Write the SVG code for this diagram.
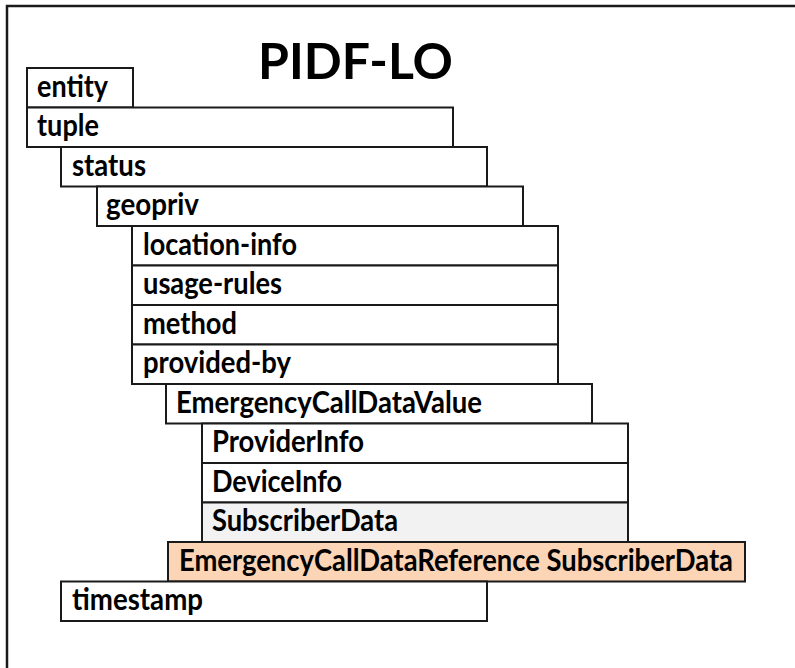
<svg xmlns="http://www.w3.org/2000/svg" width="795" height="668" viewBox="0 0 795 668">
<style>
.box{fill:#ffffff;stroke:#1a1a1a;stroke-width:2}
.sub{fill:#f2f2f2}
.ref{fill:#fbd5b5}
.lbl{font-family:Lato,"Liberation Sans",sans-serif;font-weight:bold;font-size:30px;fill:#000}
.title{font-family:Lato,"Liberation Sans",sans-serif;font-weight:bold;font-size:50px;fill:#000}
</style>
<rect x="0" y="0" width="795" height="668" fill="#ffffff"/>
<rect x="7" y="6" width="800" height="700" fill="none" stroke="#1a1a1a" stroke-width="2.5"/>
<text class="title" x="258" y="79" textLength="195" lengthAdjust="spacingAndGlyphs">PIDF-LO</text>
<g id="connectors"></g>
<g id="entity"><rect class="box" x="27" y="68" width="106" height="39.5"/><text class="lbl" x="37" y="97" textLength="71" lengthAdjust="spacingAndGlyphs">entity</text></g>
<g id="tuple"><rect class="box" x="27" y="107.5" width="426" height="39.5"/><text class="lbl" x="37" y="136" textLength="62" lengthAdjust="spacingAndGlyphs">tuple</text></g>
<g id="status"><rect class="box" x="61" y="147" width="426" height="39.5"/><text class="lbl" x="72" y="176" textLength="74" lengthAdjust="spacingAndGlyphs">status</text></g>
<g id="geopriv"><rect class="box" x="97" y="186.5" width="426" height="39.5"/><text class="lbl" x="106" y="215" textLength="93" lengthAdjust="spacingAndGlyphs">geopriv</text></g>
<g id="location-info"><rect class="box" x="132" y="226" width="426" height="39.5"/><text class="lbl" x="143" y="255" textLength="154" lengthAdjust="spacingAndGlyphs">location-info</text></g>
<g id="usage-rules"><rect class="box" x="132" y="265.5" width="426" height="39.5"/><text class="lbl" x="143" y="294" textLength="139" lengthAdjust="spacingAndGlyphs">usage-rules</text></g>
<g id="method"><rect class="box" x="132" y="305" width="426" height="39.5"/><text class="lbl" x="143" y="334" textLength="94" lengthAdjust="spacingAndGlyphs">method</text></g>
<g id="provided-by"><rect class="box" x="132" y="344.5" width="426" height="39.5"/><text class="lbl" x="143" y="373" textLength="148" lengthAdjust="spacingAndGlyphs">provided-by</text></g>
<g id="EmergencyCallDataValue"><rect class="box" x="166" y="384" width="426" height="39.5"/><text class="lbl" x="176" y="413" textLength="306" lengthAdjust="spacingAndGlyphs">EmergencyCallDataValue</text></g>
<g id="ProviderInfo"><rect class="box" x="202" y="423.5" width="426" height="39.5"/><text class="lbl" x="212" y="452" textLength="152" lengthAdjust="spacingAndGlyphs">ProviderInfo</text></g>
<g id="DeviceInfo"><rect class="box" x="202" y="463" width="426" height="39.5"/><text class="lbl" x="212" y="492" textLength="130" lengthAdjust="spacingAndGlyphs">DeviceInfo</text></g>
<g id="SubscriberData"><rect class="box sub" x="202" y="502.5" width="426" height="39.5"/><text class="lbl" x="212" y="531" textLength="186" lengthAdjust="spacingAndGlyphs">SubscriberData</text></g>
<g id="EmergencyCallDataReference"><rect class="box ref" x="168" y="542" width="577" height="39.5"/><text class="lbl" x="179" y="571" textLength="554" lengthAdjust="spacingAndGlyphs">EmergencyCallDataReference SubscriberData</text></g>
<g id="timestamp"><rect class="box" x="61" y="581.5" width="426" height="39.5"/><text class="lbl" x="72" y="610" textLength="131" lengthAdjust="spacingAndGlyphs">timestamp</text></g>
</svg>
